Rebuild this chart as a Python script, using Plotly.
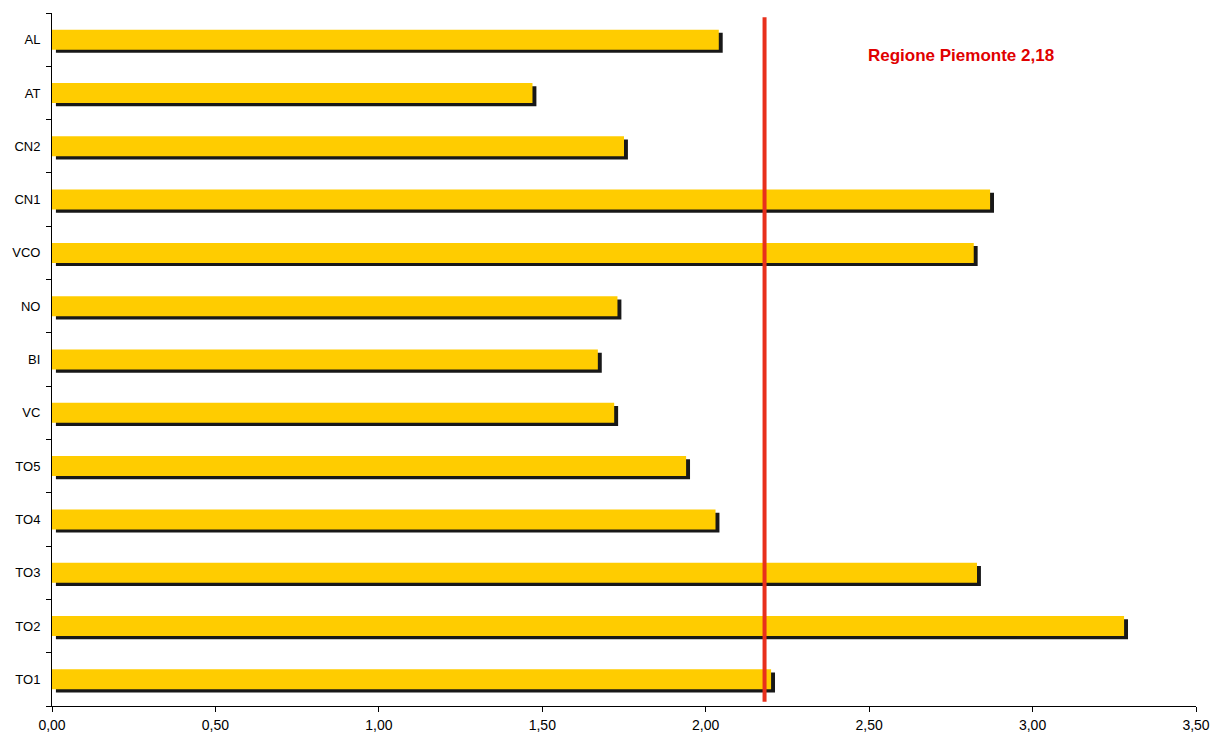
import plotly.graph_objects as go

# Districts, bottom to top
districts = ["TO1", "TO2", "TO3", "TO4", "TO5", "VC", "BI", "NO", "VCO", "CN1", "CN2", "AT", "AL"]
values = [2.20, 3.28, 2.83, 2.03, 1.94, 1.72, 1.67, 1.73, 2.82, 2.87, 1.75, 1.47, 2.04]

region_value = 2.18
region_label = "Regione Piemonte 2,18"

x_ticks = [0, 0.5, 1.0, 1.5, 2.0, 2.5, 3.0, 3.5]
x_tick_labels = ["0,00", "0,50", "1,00", "1,50", "2,00", "2,50", "3,00", "3,50"]

BAR_W = 0.375
SHADOW_DX = 0.012
SHADOW_DY = 0.06

fig = go.Figure()

# drop shadow behind each bar
fig.add_trace(go.Bar(
    y=districts,
    x=values,
    base=SHADOW_DX,
    orientation="h",
    width=BAR_W,
    offset=-BAR_W / 2 - SHADOW_DY,
    marker=dict(color="#000000", line=dict(width=0)),
    opacity=0.9,
    hoverinfo="skip",
    showlegend=False,
))

fig.add_trace(go.Bar(
    y=districts,
    x=values,
    orientation="h",
    width=BAR_W,
    offset=-BAR_W / 2,
    marker=dict(color="#FFCC00", line=dict(width=0)),
    showlegend=False,
))

# regional reference line
fig.add_shape(
    type="line", xref="x", yref="paper",
    x0=region_value, x1=region_value, y0=0.006, y1=0.994,
    line=dict(color="#E8301C", width=4),
)

fig.add_annotation(
    x=2.78, xref="x", y=0.939, yref="paper",
    text=region_label, showarrow=False,
    xanchor="center", yanchor="middle",
    font=dict(family="Liberation Sans, Arial, sans-serif", size=17, color="#E00000", weight="bold"),
)

fig.update_layout(
    width=1213, height=733,
    margin=dict(l=52, r=17, t=13, b=27),
    paper_bgcolor="white", plot_bgcolor="white",
    barmode="overlay",
    font=dict(family="Liberation Sans, Arial, sans-serif", size=13, color="black"),
    xaxis=dict(
        range=[0, 3.5],
        automargin=False,
        tickvals=x_ticks, ticktext=x_tick_labels,
        showgrid=False, zeroline=False,
        showline=True, linecolor="black", linewidth=1,
        ticks="outside", ticklen=5, tickcolor="black",
        tickfont=dict(size=14),
        ticklabelstandoff=1,
    ),
    yaxis=dict(
        type="category",
        automargin=False,
        categoryorder="array", categoryarray=districts,
        range=[-0.5, len(districts) - 0.5],
        tickson="boundaries",
        showgrid=False, zeroline=False,
        showline=True, linecolor="black", linewidth=1,
        ticks="outside", ticklen=5, tickcolor="black",
        tickfont=dict(size=13),
        ticklabelstandoff=8,
    ),
)

fig.write_html("out.html")
